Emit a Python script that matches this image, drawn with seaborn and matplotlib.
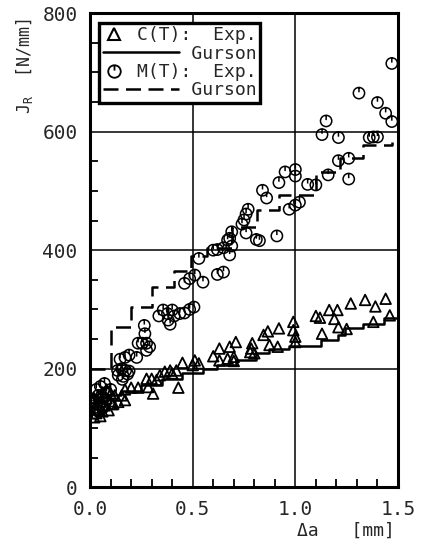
import matplotlib
matplotlib.use("Agg")
import matplotlib.pyplot as plt
import seaborn as sns
from matplotlib.lines import Line2D
from matplotlib.path import Path
from matplotlib.legend_handler import HandlerLine2D
from matplotlib.ticker import MultipleLocator

# C(T) experiment (triangles)
ct_x = [0.02, 0.03, 0.04, 0.05, 0.06, 0.03, 0.05, 0.07, 0.08, 0.09, 0.10, 0.11,
        0.12, 0.06, 0.08, 0.10, 0.04, 0.02,
        0.113, 0.137, 0.17, 0.154, 0.17, 0.20, 0.234, 0.283, 0.307, 0.275, 0.30,
        0.324, 0.34, 0.364, 0.39, 0.40, 0.42, 0.43, 0.45, 0.50, 0.51, 0.53,
        0.60, 0.63, 0.67, 0.70, 0.70, 0.63, 0.68, 0.71, 0.78, 0.80, 0.785, 0.79,
        0.845, 0.866, 0.874, 0.914, 0.92, 0.99, 0.99, 1.0, 1.0, 1.10, 1.12, 1.13,
        1.165, 1.205, 1.19, 1.21, 1.25, 1.27, 1.34, 1.39, 1.44, 1.38, 1.46]
ct_y = [118, 125, 132, 120, 128, 140, 145, 138, 150, 130, 145, 140,
        155, 160, 165, 158, 155, 150,
        141, 144, 147, 155, 165, 168, 168, 169, 158, 183, 183,
        181, 189, 195, 197, 192, 197, 168, 210, 206, 214, 209,
        221, 214, 217, 220, 213, 234, 237, 245, 228, 226, 234, 243,
        257, 263, 240, 237, 268, 279, 265, 254, 245, 289, 286, 259,
        299, 299, 284, 270, 267, 310, 316, 305, 318, 279, 290]

# M(T) experiment (circles)
mt_x = [0.02, 0.03, 0.02, 0.04, 0.05, 0.06, 0.03, 0.05, 0.08, 0.07, 0.10, 0.04, 0.06,
        0.134, 0.154, 0.173, 0.19, 0.137, 0.162, 0.183, 0.157,
        0.146, 0.17, 0.19, 0.227,
        0.234, 0.254, 0.275, 0.29, 0.275, 0.264, 0.267,
        0.335, 0.356, 0.377, 0.38, 0.40, 0.41, 0.39, 0.437, 0.46, 0.485, 0.506,
        0.46, 0.485, 0.51, 0.55, 0.53, 0.62, 0.65,
        0.60, 0.62, 0.65, 0.69, 0.68, 0.67, 0.69, 0.68,
        0.77, 0.76, 0.75, 0.74, 0.76, 0.81, 0.825, 0.91,
        0.84, 0.86, 0.92, 0.95, 1.0, 1.0, 0.97, 1.0, 1.02,
        1.06, 1.10, 1.16, 1.26, 1.21, 1.26, 1.13, 1.15, 1.21, 1.36, 1.38, 1.40,
        1.31, 1.40, 1.44, 1.47, 1.47]
mt_y = [125, 135, 145, 155, 140, 150, 165, 170, 160, 175, 165, 128, 133,
        197, 200, 197, 196, 189, 187, 191, 182,
        216, 219, 223, 219,
        243, 243, 243, 237, 231, 273, 259,
        289, 299, 293, 282, 299, 289, 275, 293, 294, 300, 304,
        344, 352, 358, 346, 386, 359, 363,
        400, 401, 404, 431, 420, 417, 407, 392,
        469, 461, 451, 444, 429, 418, 416, 424,
        501, 488, 514, 532, 536, 525, 469, 476, 481,
        511, 510, 527, 520, 551, 555, 595, 618, 590, 590, 591, 591,
        665, 649, 631, 617, 715]

# Gurson model curves (staircase)
ct_gx = [0.0, 0.03, 0.08, 0.15, 0.25, 0.35, 0.45, 0.55, 0.62, 0.71, 0.81, 0.87,
         0.97, 1.125, 1.21, 1.24, 1.33, 1.43, 1.5]
ct_gy = [135, 145, 155, 163, 172, 183, 192, 200, 207, 215, 226, 233,
         238, 248, 257, 268, 275, 285, 288]
mt_gx = [0.0, 0.1, 0.2, 0.3, 0.41, 0.49, 0.57, 0.69, 0.815, 0.92, 1.1, 1.22, 1.33, 1.47]
mt_gy = [200, 270, 304, 338, 364, 390, 403, 439, 468, 493, 532, 555, 578, 582]

x_ticks = [0.0, 0.5, 1.0, 1.5]
x_tick_labels = ["0.0", "0.5", "1.0", "1.5"]
y_ticks = [0, 200, 400, 600, 800]


class LongLine(HandlerLine2D):
    # legend line that runs on under the (space padded) label
    def __init__(self, extra, **kw):
        super().__init__(**kw)
        self.extra = extra

    def create_artists(self, legend, orig_handle, xdescent, ydescent,
                       width, height, fontsize, trans):
        y = (height - ydescent) / 2
        line = Line2D([-xdescent, -xdescent + width + self.extra * fontsize], [y, y])
        self.update_prop(line, orig_handle, legend)
        line.set_transform(trans)
        return [line]


sns.set_style("white")
plt.rcParams['font.family'] = ['DejaVu Sans Mono', 'DejaVu Sans']
plt.rcParams['mathtext.fontset'] = 'dejavusans'

fig = plt.figure(figsize=(4.27, 5.45), dpi=100)
ax = fig.add_axes([0.211, 0.106, 0.721, 0.87])

# circle with a small tick from the top, like the plotter symbol
ring = Path.make_compound_path(Path.unit_circle(),
                               Path([(0, 1), (0, 0.15)], [Path.MOVETO, Path.LINETO]))
dash = (0, (6, 3))

sns.lineplot(x=ct_gx, y=ct_gy, drawstyle='steps-post', color='black', linewidth=1.8,
             estimator=None, sort=False, ax=ax)
sns.lineplot(x=mt_gx, y=mt_gy, drawstyle='steps-post', color='black', linewidth=1.8,
             linestyle=dash, estimator=None, sort=False, ax=ax)
sns.scatterplot(x=ct_x, y=ct_y, marker='^', s=58, facecolor='none', edgecolor='black',
                linewidth=1.3, zorder=3, ax=ax)
sns.scatterplot(x=mt_x, y=mt_y, marker=ring, s=66, facecolor='none', edgecolor='black',
                linewidth=1.1, zorder=3, ax=ax)

ax.set_xlim(0, 1.5)
ax.set_ylim(0, 800)
ax.set_xticks(x_ticks)
ax.set_xticklabels(x_tick_labels)
ax.set_yticks(y_ticks)
ax.xaxis.set_minor_locator(MultipleLocator(0.1))
ax.yaxis.set_minor_locator(MultipleLocator(50))
ax.tick_params(which='both', direction='in', bottom=True, left=True, top=False,
               right=False, width=1.3, color='black')
ax.tick_params(which='minor', length=6)
ax.tick_params(which='major', length=0, pad=9, labelsize=14)
ax.grid(True, which='major', color='black', linewidth=1.1)
for s in ax.spines.values():
    s.set_linewidth(2.2)
    s.set_color('black')

ax.set_ylabel(r"J$_\mathregular{R}$  [N/mm]", fontsize=12, loc='top')
ax.yaxis.set_label_coords(-0.18, 0.99)
ax.set_xlabel("Δa   [mm]", fontsize=13, loc='right')
ax.xaxis.set_label_coords(0.99, -0.072)

# legend
h1 = Line2D([], [], marker='^', ls='none', mfc='none', mec='black', ms=9, mew=1.5)
h2 = Line2D([], [], color='black', lw=1.8)
h3 = Line2D([], [], marker=ring, ls='none', mfc='none', mec='black', ms=9, mew=1.3)
h4 = Line2D([], [], color='black', lw=1.8, ls=dash)
leg = ax.legend([h1, h2, h3, h4],
                ["C(T):  Exp.", "     Gurson", "M(T):  Exp.", "     Gurson"],
                loc='upper left', bbox_to_anchor=(0.03, 0.98), handlelength=1.2,
                handletextpad=0.7, fontsize=13, frameon=True, fancybox=False,
                edgecolor='black', framealpha=1, borderpad=0.2, labelspacing=0.02,
                borderaxespad=0, handler_map={h2: LongLine(3.0), h4: LongLine(3.0)})
leg.get_frame().set_linewidth(2.4)

fig.savefig("out.png", dpi=100)
